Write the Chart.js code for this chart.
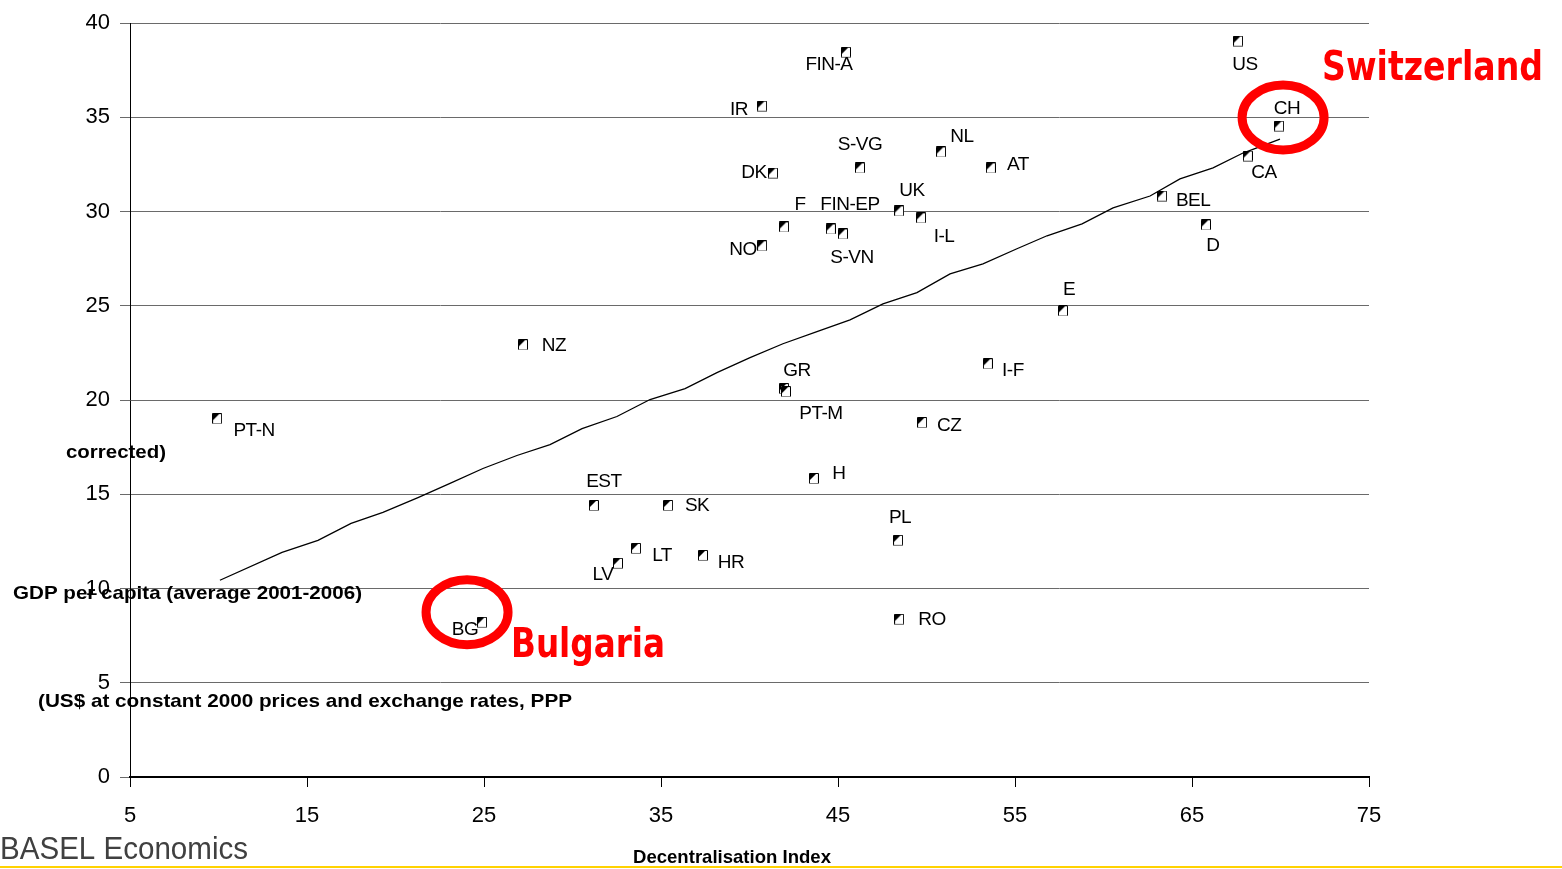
<!DOCTYPE html>
<html>
<head>
<meta charset="utf-8">
<script src="https://cdn.jsdelivr.net/npm/chart.js@4"></script>
<style>
    html, body { margin: 0; padding: 0; background: #fff; overflow: hidden; }
</style>
</head>
<body>
<canvas id="chart" width="1562" height="869"></canvas>
<script>
'use strict';

// Regions / countries and their values
const countries = ['FIN-A', 'IR', 'S-VG', 'NL', 'AT', 'DK', 'UK', 'I-L', 'F', 'FIN-EP', 'S-VN', 'NO',
    'E', 'NZ', 'I-F', 'GR', 'PT-M', 'PT-N', 'CZ', 'H', 'EST', 'SK', 'PL', 'LT', 'HR', 'LV', 'RO', 'BG',
    'US', 'CH', 'CA', 'BEL', 'D'];
const decentralisation = [45.45, 40.71, 46.24, 50.82, 53.64, 41.33, 48.45, 49.69, 41.95, 44.60, 45.28, 40.71,
    57.71, 27.20, 53.47, 41.95, 42.06, 9.92, 49.75, 43.64, 31.21, 35.40, 48.39, 33.59, 37.37, 32.57, 48.45, 24.89,
    67.60, 69.92, 68.16, 63.31, 65.79];
const gdpPerCapita = [38.46, 35.60, 32.32, 33.17, 32.32, 32.05, 30.04, 29.67, 29.19, 29.08, 28.82, 28.19,
    24.74, 22.94, 21.93, 20.61, 20.45, 19.02, 18.81, 15.84, 14.41, 14.41, 12.56, 12.13, 11.76, 11.34, 8.37, 8.21,
    39.05, 34.54, 32.95, 30.83, 29.30];

// Trend line
const trendX = [10.08, 13.59, 15.62, 17.49, 19.29, 21.27, 23.08, 24.94, 26.86, 28.73, 30.54, 32.51, 34.38,
    36.36, 38.16, 40.03, 41.89, 43.81, 45.68, 47.54, 49.46, 51.33, 53.19, 55.11, 56.81, 58.79, 60.54, 62.63,
    64.32, 66.19, 67.88, 69.97];
const trendY = [10.44, 11.92, 12.56, 13.46, 14.04, 14.83, 15.58, 16.37, 17.06, 17.64, 18.49, 19.13, 20.03,
    20.61, 21.46, 22.25, 22.99, 23.63, 24.26, 25.11, 25.70, 26.70, 27.23, 28.03, 28.72, 29.35, 30.20, 30.83,
    31.74, 32.32, 33.11, 33.85];

const xTicks = [5, 15, 25, 35, 45, 55, 65, 75];
const yTicks = [0, 5, 10, 15, 20, 25, 30, 35, 40];

// Label placement relative to the marker (px)
const labelOffset = {
    'FIN-A': [-17, 13], 'IR': [-23, 4], 'S-VG': [0, -23], 'NL': [21, -15], 'AT': [27, -3],
    'DK': [-19, 0], 'UK': [13, -20], 'I-L': [23, 19], 'F': [16, -22], 'FIN-EP': [19, -24],
    'S-VN': [9, 24], 'NO': [-19, 4], 'E': [6, -21], 'NZ': [31, 1], 'I-F': [25, 7],
    'GR': [13, -18], 'PT-M': [35, 22], 'PT-N': [37, 12], 'CZ': [27, 3], 'H': [25, -5],
    'EST': [10, -24], 'SK': [29, 0], 'PL': [2, -23], 'LT': [26, 7], 'HR': [28, 7],
    'LV': [-15, 11], 'RO': [33, 0], 'BG': [-17, 7], 'US': [7, 24], 'CH': [8, -17],
    'CA': [16, 17], 'BEL': [31, 5], 'D': [7, 21]
};

// Highlight rings: [country, dx, dy]
const highlights = [['BG', -15, -10], ['CH', 4, -8.5]];

function makeMarker() {
    const c = document.createElement('canvas');
    c.width = 10; c.height = 11;
    const g = c.getContext('2d');
    g.fillStyle = '#fff';
    g.fillRect(0, 0, 10, 11);
    g.strokeStyle = '#000';
    g.lineWidth = 1;
    g.beginPath();
    g.moveTo(0.5, 9); g.lineTo(0.5, 0.5); g.lineTo(9.5, 0.5); g.lineTo(9.5, 9);
    g.stroke();
    g.setLineDash([1, 1]);
    g.beginPath();
    g.moveTo(0.5, 10.5); g.lineTo(9.5, 10.5);
    g.moveTo(0.5, 9); g.lineTo(0.5, 11);
    g.moveTo(9.5, 9); g.lineTo(9.5, 11);
    g.stroke();
    g.fillStyle = '#000';
    g.beginPath();
    g.moveTo(1, 1); g.lineTo(7, 1); g.lineTo(1, 7);
    g.closePath();
    g.fill();
    return c;
}

function fitText(ctx, text, left, y, width, font, color) {
    ctx.save();
    ctx.font = font;
    ctx.fillStyle = color;
    ctx.textAlign = 'left';
    ctx.textBaseline = 'middle';
    const w = ctx.measureText(text).width;
    ctx.translate(left, y);
    ctx.scale(width / w, 1);
    ctx.fillText(text, 0, 0);
    ctx.restore();
}

const annotations = {
    id: 'annotations',
    afterDatasetsDraw(chart) {
        const ctx = chart.ctx;
        const meta = chart.getDatasetMeta(1);

        // point labels
        ctx.save();
        ctx.font = '19px "Liberation Sans", Arial, sans-serif';
        ctx.letterSpacing = '-0.5px';
        ctx.fillStyle = '#000';
        ctx.textAlign = 'center';
        ctx.textBaseline = 'middle';
        countries.forEach((name, i) => {
            const pt = meta.data[i];
            const off = labelOffset[name] || [0, -18];
            ctx.fillText(name, pt.x + off[0], pt.y + off[1]);
        });
        ctx.restore();

        // red rings
        ctx.save();
        ctx.strokeStyle = '#ff0000';
        ctx.lineWidth = 9;
        highlights.forEach(([name, dx, dy]) => {
            const pt = meta.data[countries.indexOf(name)];
            ctx.beginPath();
            ctx.ellipse(pt.x + dx, pt.y + dy, 41, 32.5, 0, 0, Math.PI * 2);
            ctx.stroke();
        });
        ctx.restore();
    },
    afterDraw(chart) {
        const ctx = chart.ctx;
        const bold = 'bold 19px "Liberation Sans", Arial, sans-serif';
        fitText(ctx, 'corrected)', 66, 453, 100, bold, '#000');
        fitText(ctx, 'GDP per capita (average 2001-2006)', 13, 594, 349, bold, '#000');
        fitText(ctx, '(US$ at constant 2000 prices and exchange rates, PPP', 38, 702, 534, bold, '#000');
        fitText(ctx, 'Decentralisation Index', 633, 858, 198, 'bold 19px "Liberation Sans", Arial, sans-serif', '#000');
        fitText(ctx, 'BASEL Economics', 0, 850, 248, '32px "Liberation Sans", Arial, sans-serif', '#404040');
        fitText(ctx, 'Switzerland', 1322, 70, 221, 'bold 40px "DejaVu Sans", sans-serif', '#ff0000');
        fitText(ctx, 'Bulgaria', 511, 647, 154, 'bold 40px "DejaVu Sans", sans-serif', '#ff0000');

        // yellow footer rule
        ctx.save();
        ctx.fillStyle = '#ffd200';
        ctx.fillRect(0, 866, 1562, 2);
        ctx.restore();
    }
};

const marker = makeMarker();

new Chart(document.getElementById('chart'), {
    type: 'scatter',
    data: {
        datasets: [
            {
                type: 'line',
                data: trendX.map((x, i) => ({ x, y: trendY[i] })),
                borderColor: '#000',
                borderWidth: 1.3,
                pointRadius: 0,
                tension: 0,
                fill: false
            },
            {
                data: decentralisation.map((x, i) => ({ x, y: gdpPerCapita[i] })),
                pointStyle: marker,
                pointRadius: 5
            }
        ]
    },
    options: {
        responsive: false,
        devicePixelRatio: 1,
        animation: false,
        layout: { padding: { top: 22, right: 193, left: 0, bottom: 0 } },
        plugins: { legend: { display: false }, tooltip: { enabled: false } },
        scales: {
            x: {
                type: 'linear',
                min: 5,
                max: 75,
                afterBuildTicks: s => { s.ticks = xTicks.map(v => ({ value: v })); },
                afterFit: s => { s.height = 92; },
                grid: { drawOnChartArea: false, tickLength: 10, color: '#000' },
                border: { color: '#000', width: 2 },
                ticks: {
                    color: '#000',
                    padding: 16,
                    maxRotation: 0,
                    autoSkip: false,
                    font: { family: '"Liberation Sans", Arial, sans-serif', size: 22 }
                }
            },
            y: {
                min: 0,
                max: 40,
                afterBuildTicks: s => { s.ticks = yTicks.map(v => ({ value: v })); },
                afterFit: s => { s.width = 130; },
                grid: { color: '#6a6a6a', tickLength: 10, lineWidth: 1 },
                border: { color: '#000', width: 1 },
                ticks: {
                    color: '#000',
                    padding: 10,
                    font: { family: '"Liberation Sans", Arial, sans-serif', size: 22 }
                }
            }
        }
    },
    plugins: [annotations]
});
</script>
</body>
</html>
